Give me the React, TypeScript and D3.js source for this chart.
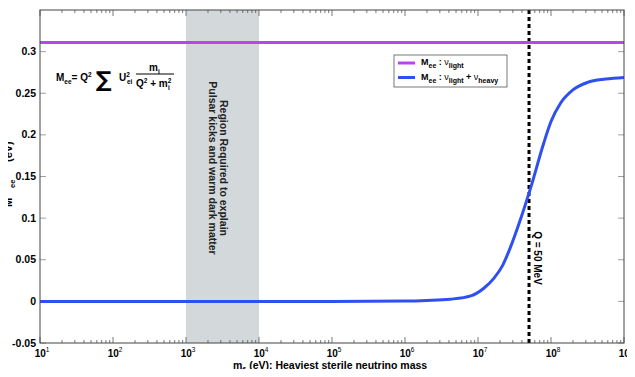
import React, { useEffect, useRef } from 'react';
import * as d3 from 'd3';

// log10 of heaviest sterile neutrino mass (eV) and Mee (eV)
const heavyLogMass = [1, 2, 3, 4, 5, 6, 6.3, 6.62, 6.9, 7.08, 7.22, 7.33, 7.44, 7.58, 7.72, 7.9, 8.0, 8.13, 8.3, 8.5, 8.75, 9];
const heavyMee = [0, 0, 0, 0, 0, 0.0004, 0.0011, 0.0026, 0.0066, 0.0158, 0.028, 0.042, 0.064, 0.098, 0.136, 0.19, 0.216, 0.238, 0.254, 0.263, 0.267, 0.269];
const lightMee = [0.311, 0.311];
const lightLogMass = [1, 9];
const yTicks = [-0.05, 0, 0.05, 0.1, 0.15, 0.2, 0.25, 0.3];
const xDecades = [1, 2, 3, 4, 5, 6, 7, 8, 9];
const band = [1e3, 1e4];
const qLine = 5e7;

const W = 635;
const H = 377;
const m = { left: 40, right: 11, top: 10, bottom: 34 };
const FONT = '"Liberation Sans", Arial, sans-serif';

const App = () => {
  const ref = useRef<SVGSVGElement>(null);

  useEffect(() => {
    const svg = d3.select(ref.current);
    svg.selectAll('*').remove();

    const x = d3.scaleLog().domain([1e1, 1e9]).range([m.left, W - m.right]);
    const y = d3.scaleLinear().domain([-0.05, 0.35]).range([H - m.bottom, m.top]);

    svg.append('rect').attr('width', W).attr('height', H).attr('fill', '#fff');

    // shaded region
    svg.append('rect')
      .attr('x', x(band[0])).attr('y', y(0.35))
      .attr('width', x(band[1]) - x(band[0]))
      .attr('height', y(-0.05) - y(0.35))
      .attr('fill', '#d3d9db');

    // minor + major ticks, top and bottom
    const g = svg.append('g');
    xDecades.forEach(d => {
      for (let k = 1; k <= 9; k++) {
        if (d === 9 && k > 1) break;
        const v = k * Math.pow(10, d);
        const len = k === 1 ? 6 : 3;
        const xx = x(v);
        g.append('line').attr('x1', xx).attr('x2', xx)
          .attr('y1', y(-0.05)).attr('y2', y(-0.05) - len)
          .attr('stroke', '#555').attr('stroke-width', 0.8);
        g.append('line').attr('x1', xx).attr('x2', xx)
          .attr('y1', y(0.35)).attr('y2', y(0.35) + len)
          .attr('stroke', '#555').attr('stroke-width', 0.8);
      }
    });
    yTicks.forEach(t => {
      g.append('line').attr('x1', m.left).attr('x2', m.left + 6)
        .attr('y1', y(t)).attr('y2', y(t)).attr('stroke', '#888').attr('stroke-width', 0.8);
      g.append('line').attr('x1', W - m.right).attr('x2', W - m.right - 6)
        .attr('y1', y(t)).attr('y2', y(t)).attr('stroke', '#888').attr('stroke-width', 0.8);
      g.append('text').attr('x', m.left - 4).attr('y', y(t) + 3.5)
        .attr('text-anchor', 'end').attr('font-size', 10.5).attr('font-weight', 'bold')
        .attr('font-family', FONT).text(String(t));
    });

    // x tick labels
    xDecades.forEach(d => {
      const t = g.append('text').attr('x', x(Math.pow(10, d)) + 2).attr('y', H - m.bottom + 14)
        .attr('text-anchor', 'middle').attr('font-size', 10).attr('font-weight', 'bold')
        .attr('font-family', FONT);
      t.append('tspan').text('10');
      t.append('tspan').attr('dy', -5).attr('font-size', 6.5).attr('font-weight', 'normal').text(String(d));
    });

    // Q line
    svg.append('line')
      .attr('x1', x(qLine)).attr('x2', x(qLine))
      .attr('y1', y(0.35)).attr('y2', y(-0.05))
      .attr('stroke', '#000').attr('stroke-width', 3).attr('stroke-dasharray', '4,3');

    const line = d3.line<[number, number]>()
      .x(d => x(Math.pow(10, d[0]))).y(d => y(d[1]))
      .curve(d3.curveMonotoneX);

    svg.append('path')
      .attr('d', line(lightLogMass.map((v, i) => [v, lightMee[i]]) as [number, number][]))
      .attr('fill', 'none').attr('stroke', '#bb44ee').attr('stroke-width', 3);
    svg.append('path')
      .attr('d', line(heavyLogMass.map((v, i) => [v, heavyMee[i]]) as [number, number][]))
      .attr('fill', 'none').attr('stroke', '#2e50f2').attr('stroke-width', 3);

    // frame
    svg.append('rect')
      .attr('x', m.left).attr('y', m.top)
      .attr('width', W - m.left - m.right).attr('height', H - m.top - m.bottom)
      .attr('fill', 'none').attr('stroke', '#444').attr('stroke-width', 1);

    const txt = (xx: number, yy: number, size = 9) =>
      svg.append('text').attr('x', xx).attr('y', yy).attr('font-size', size)
        .attr('font-weight', 'bold').attr('font-family', FONT);

    // band annotation
    const bt = svg.append('text').attr('transform', `translate(217,168) rotate(90)`)
      .attr('text-anchor', 'middle').attr('font-size', 10.5).attr('font-family', FONT)
      .attr('font-weight', 'bold').attr('fill', '#222');
    bt.append('tspan').attr('x', 0).attr('y', -3).text('Region Required  to explain');
    bt.append('tspan').attr('x', 0).attr('y', 8.5).text('Pulsar kicks and warm dark matter');

    // Q label
    svg.append('text').attr('transform', `translate(${x(qLine) + 5},258) rotate(90)`)
      .attr('text-anchor', 'middle').attr('font-size', 10).attr('font-family', FONT)
      .attr('font-weight', 'bold').text('Q = 50 MeV');

    // y axis label, pieces placed separately in a rotated group
    const yl = svg.append('g').attr('transform', 'translate(12,207) rotate(-90)')
      .attr('font-weight', 'bold').attr('font-family', FONT).attr('fill', '#000');
    yl.append('text').attr('x', 0).attr('y', 0).attr('font-size', 11).text('M');
    yl.append('text').attr('x', 19).attr('y', 3).attr('font-size', 7.5).text('ee');
    yl.append('text').attr('x', 45).attr('y', 0).attr('font-size', 11).text('(eV)');

    const xl = txt(233, 369, 10.5);
    xl.append('tspan').text('m');
    xl.append('tspan').attr('dy', 3).attr('font-size', 7).text('6');
    xl.append('tspan').attr('dy', -3).text('  (eV):  Heaviest sterile neutrino mass');

    // formula
    const f1 = txt(56, 81, 10);
    f1.append('tspan').text('M');
    f1.append('tspan').attr('dy', 3).attr('font-size', 6.5).text('ee');
    f1.append('tspan').attr('dy', -3).text('=  Q');
    f1.append('tspan').attr('dy', -4).attr('font-size', 6.5).text('2');
    svg.append('text').attr('x', 96).attr('y', 87).attr('font-size', 22)
      .attr('font-family', '"DejaVu Sans", sans-serif').attr('font-weight', 'bold').text('∑');
    const f2 = txt(119, 81, 10);
    f2.append('tspan').text('U');
    f2.append('tspan').attr('dy', -4).attr('font-size', 6.5).text('2');
    f2.append('tspan').attr('x', 127).attr('dy', 7).attr('font-size', 6.5).text('ei');
    const f3 = txt(149, 71, 10);
    f3.append('tspan').text('m');
    f3.append('tspan').attr('dy', 3).attr('font-size', 6.5).text('i');
    svg.append('line').attr('x1', 136).attr('x2', 174).attr('y1', 74).attr('y2', 74)
      .attr('stroke', '#000').attr('stroke-width', 1);
    const f4 = txt(136, 87, 10);
    f4.append('tspan').text('Q');
    f4.append('tspan').attr('dy', -4).attr('font-size', 6.5).text('2');
    f4.append('tspan').attr('dy', 4).text(' + m');
    f4.append('tspan').attr('dy', -4).attr('font-size', 6.5).text('2');
    f4.append('tspan').attr('x', 168).attr('dy', 7).attr('font-size', 6.5).text('i');

    // legend
    const lg = svg.append('g');
    lg.append('rect').attr('x', 394).attr('y', 55).attr('width', 113).attr('height', 32)
      .attr('fill', '#fff').attr('stroke', '#555').attr('stroke-width', 0.8);
    const entries = [
      { c: '#bb44ee', parts: [['M', 0], ['ee', 1], [' : ', 0], ['ν', 0], ['light', 1]] },
      { c: '#2e50f2', parts: [['M', 0], ['ee', 1], [' : ', 0], ['ν', 0], ['light', 1], [' + ', 0], ['ν', 0], ['heavy', 1]] }
    ];
    entries.forEach((e, i) => {
      const yy = 63 + i * 14.5;
      lg.append('line').attr('x1', 398).attr('x2', 415).attr('y1', yy).attr('y2', yy)
        .attr('stroke', e.c).attr('stroke-width', 3);
      const t = lg.append('text').attr('x', 421).attr('y', yy + 2).attr('font-size', 9)
        .attr('font-weight', 'bold').attr('font-family', FONT);
      let sub = 0;
      (e.parts as [string, number][]).forEach(([s, isSub]) => {
        const dy = isSub ? (sub ? 0 : 3) : (sub ? -3 : 0);
        sub = isSub;
        t.append('tspan').attr('dy', dy).attr('font-size', isSub ? 7 : 9)
          .attr('font-weight', s === 'ν' ? 'normal' : 'bold').text(s);
      });
    });
  }, []);

  return <svg ref={ref} width={W} height={H} style={{ display: 'block', margin: -8 }} />;
};

export default App;
